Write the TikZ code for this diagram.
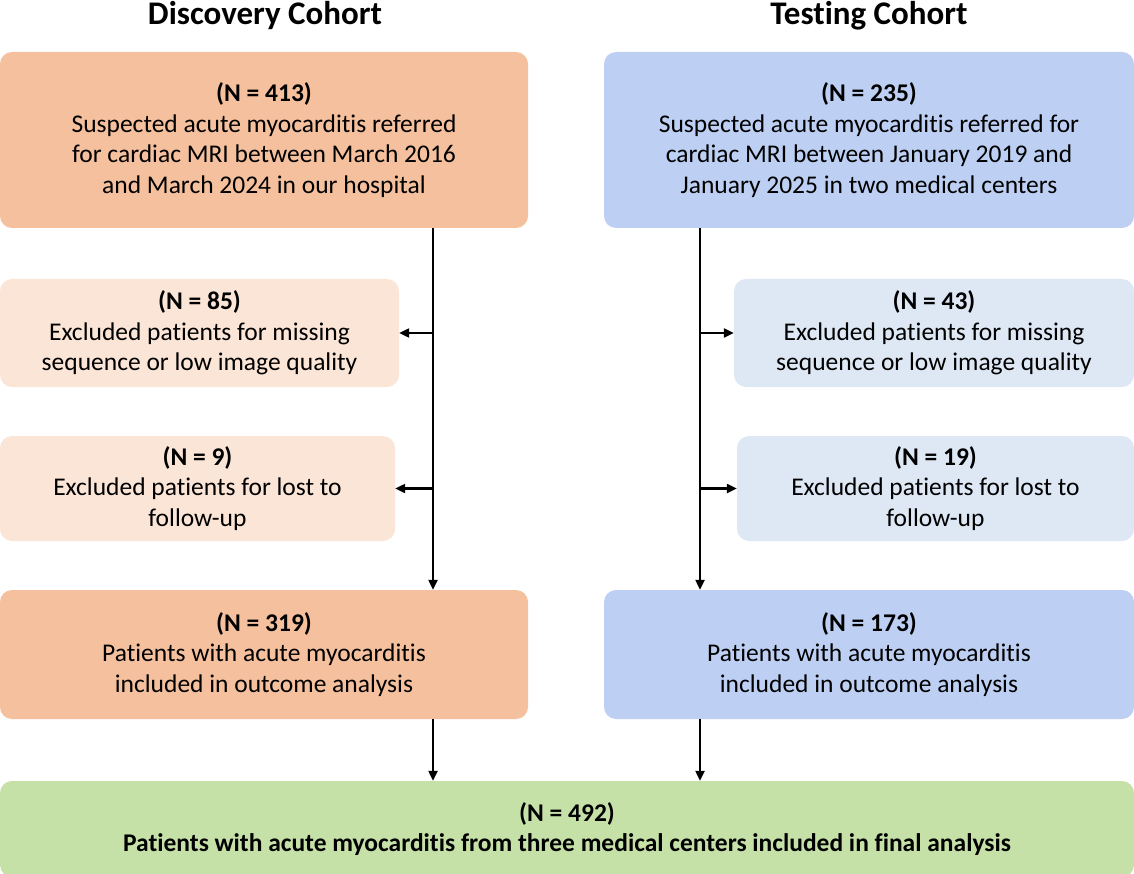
\documentclass[tikz,border=0pt]{standalone}
\usepackage{fontspec}
\setmainfont{Carlito}[Ligatures={NoCommon}]
\usetikzlibrary{arrows.meta}
\definecolor{peach}{HTML}{F5C09D}
\definecolor{lpeach}{HTML}{FBE5D7}
\definecolor{blu}{HTML}{BDD0F4}
\definecolor{lblu}{HTML}{DEE8F5}
\definecolor{grn}{HTML}{C6E1A7}
\tikzset{
  box/.style={rectangle, rounded corners=12pt, inner sep=0pt, align=center,
    font=\fontsize{25.5}{30.5}\selectfont, draw=none},
  ttl/.style={font=\fontsize{33}{36}\selectfont\bfseries, anchor=base},
  arr/.style={line width=2.2pt, -{Triangle[length=10pt,width=9pt]}},
}
\begin{document}
\begin{tikzpicture}[x=1pt,y=-1pt]
\useasboundingbox (0,0) rectangle (1134,874);
\node[ttl] (h1) at (265,25) {Discovery Cohort};
\node[ttl] (h2) at (869,25) {Testing Cohort};

\node[box, fill=peach, minimum width=528pt, minimum height=176pt] (d1) at (264,140)
  {\textbf{(N = 413)}\\Suspected acute myocarditis referred\\for cardiac MRI between March 2016\\and March 2024 in our hospital};
\node[box, fill=blu, minimum width=530pt, minimum height=176pt] (t1) at (869,140)
  {\textbf{(N = 235)}\\Suspected acute myocarditis referred for\\cardiac MRI between January 2019 and\\January 2025 in two medical centers};

\node[box, fill=lpeach, minimum width=399pt, minimum height=108pt] (d2) at (199.5,333)
  {\textbf{(N = 85)}\\Excluded patients for missing\\sequence or low image quality};
\node[box, fill=lpeach, minimum width=395pt, minimum height=105pt] (d3) at (197.5,488.5)
  {\textbf{(N = 9)}\\Excluded patients for lost to\\follow-up};
\node[box, fill=lblu, minimum width=400pt, minimum height=108pt] (t2) at (934,333)
  {\textbf{(N = 43)}\\Excluded patients for missing\\sequence or low image quality};
\node[box, fill=lblu, minimum width=397pt, minimum height=105pt] (t3) at (935.5,488.5)
  {\textbf{(N = 19)}\\Excluded patients for lost to\\follow-up};

\node[box, fill=peach, minimum width=528pt, minimum height=129pt] (d4) at (264,654.5)
  {\textbf{(N = 319)}\\Patients with acute myocarditis\\included in outcome analysis};
\node[box, fill=blu, minimum width=530pt, minimum height=129pt] (t4) at (869,654.5)
  {\textbf{(N = 173)}\\Patients with acute myocarditis\\included in outcome analysis};

\node[box, fill=grn, minimum width=1134pt, minimum height=96pt] (f) at (567,829)
  {\textbf{(N = 492)}\\\textbf{Patients with acute myocarditis from three medical centers included in final analysis}};

\coordinate (lx) at (433,0);
\coordinate (rx) at (700,0);
\draw[arr] (lx |- d1.south) -- (lx |- d4.north);
\draw[arr] (rx |- t1.south) -- (rx |- t4.north);
\draw[arr] (lx |- d2.east) -- (d2.east);
\draw[arr] (lx |- d3.east) -- (d3.east);
\draw[arr] (rx |- t2.west) -- (t2.west);
\draw[arr] (rx |- t3.west) -- (t3.west);
\draw[arr] (lx |- d4.south) -- (lx |- f.north);
\draw[arr] (rx |- t4.south) -- (rx |- f.north);
\end{tikzpicture}
\end{document}
